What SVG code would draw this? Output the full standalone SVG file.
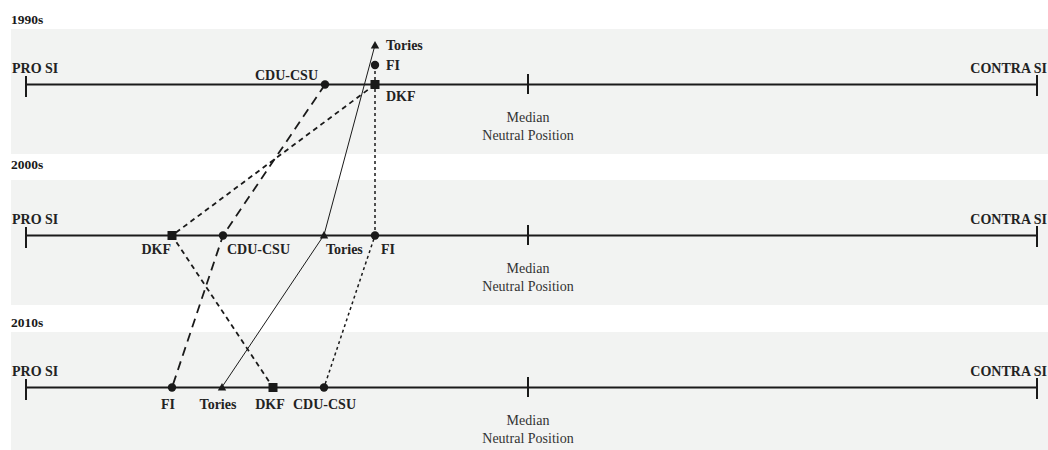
<svg xmlns="http://www.w3.org/2000/svg" width="1048" height="450" viewBox="0 0 1048 450">
<style>
.band{fill:#f2f3f2}
.axis{stroke:#1a1a1a;stroke-width:2;fill:none}
.hd{font-family:"Liberation Serif",serif;font-weight:bold;font-size:13.5px;fill:#1a1a1a}
.lb{font-family:"Liberation Serif",serif;font-weight:bold;font-size:14px;fill:#222}
.md{font-family:"Liberation Serif",serif;font-size:14px;fill:#333;text-anchor:middle}
.mk{fill:#1a1a1a}
.cdu{stroke:#1a1a1a;stroke-width:1.8;stroke-dasharray:9 6;fill:none}
.dkf{stroke:#1a1a1a;stroke-width:1.8;stroke-dasharray:5 4;fill:none}
.tor{stroke:#1a1a1a;stroke-width:1;fill:none}
.fi{stroke:#1a1a1a;stroke-width:1.5;stroke-dasharray:3 3;fill:none}
</style>
<defs>
<circle id="dot" r="4.2" class="mk"/>
<rect id="sq" x="-4.5" y="-4.5" width="9" height="9" class="mk"/>
<path id="tri" d="M0,-5 L4.2,2.5 L-4.2,2.5 Z" class="mk"/>
</defs>

<g id="band-1990s">
<text class="hd" x="11" y="24">1990s</text>
<rect class="band" x="11" y="29" width="1037" height="125"/>
<line class="axis" x1="26" y1="84.5" x2="1037" y2="84.5"/>
<line class="axis" x1="26" y1="76" x2="26" y2="97"/>
<line class="axis" x1="528" y1="74" x2="528" y2="94"/>
<line class="axis" x1="1037" y1="75" x2="1037" y2="96"/>
<text class="lb" x="12" y="73">PRO SI</text>
<text class="lb" x="1047" y="73" text-anchor="end">CONTRA SI</text>
<text class="md" x="528" y="122">Median</text>
<text class="md" x="528" y="140">Neutral Position</text>
</g>

<g id="band-2000s">
<text class="hd" x="11" y="169">2000s</text>
<rect class="band" x="11" y="180" width="1037" height="125"/>
<line class="axis" x1="26" y1="235.5" x2="1037" y2="235.5"/>
<line class="axis" x1="26" y1="227" x2="26" y2="248"/>
<line class="axis" x1="528" y1="225" x2="528" y2="245"/>
<line class="axis" x1="1037" y1="226" x2="1037" y2="247"/>
<text class="lb" x="12" y="223.5">PRO SI</text>
<text class="lb" x="1047" y="223.5" text-anchor="end">CONTRA SI</text>
<text class="md" x="528" y="273">Median</text>
<text class="md" x="528" y="291">Neutral Position</text>
</g>

<g id="band-2010s">
<text class="hd" x="11" y="327">2010s</text>
<rect class="band" x="11" y="332" width="1037" height="118"/>
<line class="axis" x1="26" y1="387.5" x2="1037" y2="387.5"/>
<line class="axis" x1="26" y1="379" x2="26" y2="400"/>
<line class="axis" x1="528" y1="377" x2="528" y2="397"/>
<line class="axis" x1="1037" y1="378" x2="1037" y2="399"/>
<text class="lb" x="12" y="376">PRO SI</text>
<text class="lb" x="1047" y="376" text-anchor="end">CONTRA SI</text>
<text class="md" x="528" y="425">Median</text>
<text class="md" x="528" y="443">Neutral Position</text>
</g>

<g id="connectors">
<polyline class="cdu" points="325,84.5 223,235.5 172,387.5"/>
<polyline class="dkf" points="375,84.5 172,235.5 273,387.5"/>
<polyline class="tor" points="375,45 324,235 222,387"/>
<polyline class="fi" points="375,65 375,235.5 324,387.5"/>
</g>

<g id="cdu-csu">
<use href="#dot" x="325" y="84.5"/>
<text class="lb" x="318" y="80" text-anchor="end">CDU-CSU</text>
<use href="#dot" x="223" y="235.5"/>
<text class="lb" x="227" y="254">CDU-CSU</text>
<use href="#dot" x="324" y="387.5"/>
<text class="lb" x="324.5" y="408.5" text-anchor="middle">CDU-CSU</text>
</g>

<g id="dkf">
<use href="#sq" x="375" y="84.5"/>
<text class="lb" x="386" y="101">DKF</text>
<use href="#sq" x="172" y="235.5"/>
<text class="lb" x="171" y="254" text-anchor="end">DKF</text>
<use href="#sq" x="273" y="387.5"/>
<text class="lb" x="270" y="408.5" text-anchor="middle">DKF</text>
</g>

<g id="tories">
<use href="#tri" x="375" y="46"/>
<text class="lb" x="386" y="50">Tories</text>
<use href="#tri" x="324" y="236"/>
<text class="lb" x="326" y="254">Tories</text>
<use href="#tri" x="222" y="388"/>
<text class="lb" x="218" y="408.5" text-anchor="middle">Tories</text>
</g>

<g id="fi">
<use href="#dot" x="375" y="65"/>
<text class="lb" x="386" y="69.5">FI</text>
<use href="#dot" x="375" y="235.5"/>
<text class="lb" x="381" y="254">FI</text>
<use href="#dot" x="172" y="387.5"/>
<text class="lb" x="168" y="408.5" text-anchor="middle">FI</text>
</g>
</svg>
